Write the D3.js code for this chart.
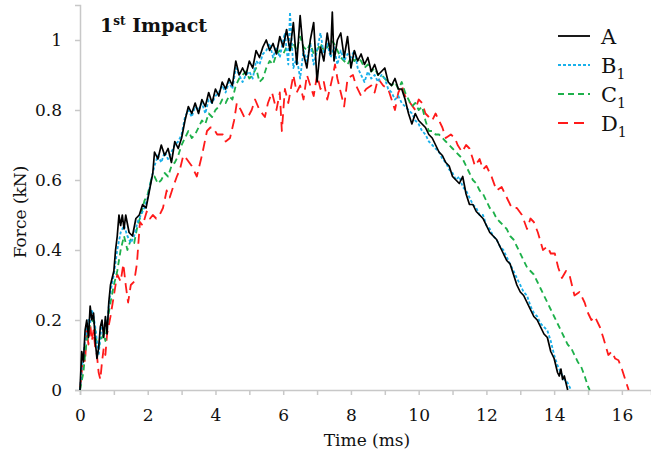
<!DOCTYPE html>
<html>
<head>
<meta charset="utf-8">
<script src="https://cdn.jsdelivr.net/npm/d3@7"></script>
<style>
  body { margin: 0; background: #fff; }
  text { font-family: "DejaVu Serif", serif; fill: #111; }
</style>
</head>
<body>
<div id="chart"></div>
<script>
// Force-time traces, [time ms, force kN]
const seriesA = [
  [0,0],[0.05,0.11],[0.1,0.08],[0.15,0.17],[0.2,0.2],[0.25,0.15],[0.3,0.24],[0.35,0.2],[0.4,0.22],[0.45,0.14],
  [0.5,0.09],[0.55,0.12],[0.6,0.18],[0.65,0.2],[0.7,0.15],[0.75,0.21],[0.8,0.16],[0.85,0.25],[0.9,0.3],[1.0,0.34],
  [1.05,0.4],[1.1,0.44],[1.15,0.5],[1.2,0.47],[1.25,0.5],[1.3,0.46],[1.35,0.5],[1.45,0.45],[1.55,0.44],[1.65,0.49],
  [1.75,0.5],[1.85,0.53],[1.95,0.52],[2.05,0.57],[2.15,0.62],[2.2,0.68],[2.3,0.66],[2.4,0.7],[2.5,0.67],[2.6,0.69],
  [2.7,0.65],[2.8,0.71],[2.9,0.69],[3.0,0.72],[3.1,0.77],[3.2,0.81],[3.3,0.79],[3.4,0.82],[3.5,0.79],[3.6,0.83],
  [3.7,0.81],[3.8,0.85],[3.9,0.82],[4.0,0.86],[4.1,0.84],[4.2,0.88],[4.3,0.86],[4.4,0.89],[4.5,0.87],[4.6,0.94],
  [4.7,0.9],[4.8,0.92],[4.9,0.9],[5.0,0.94],[5.1,0.92],[5.2,0.97],[5.3,0.95],[5.4,0.98],[5.5,1.0],[5.6,0.97],
  [5.7,0.99],[5.8,0.96],[5.9,1.01],[6.0,0.98],[6.1,1.03],[6.2,0.97],[6.3,1.05],[6.4,0.93],[6.5,1.07],[6.6,0.96],
  [6.7,0.92],[6.8,1.0],[6.9,1.05],[7.0,0.88],[7.1,0.98],[7.2,0.94],[7.3,1.02],[7.4,0.96],[7.45,1.08],[7.5,0.94],
  [7.6,1.0],[7.7,1.02],[7.8,0.95],[7.9,1.01],[8.0,0.92],[8.1,0.97],[8.2,0.94],[8.3,0.96],[8.4,0.93],[8.5,0.95],
  [8.6,0.91],[8.7,0.93],[8.8,0.9],[8.9,0.91],[9.0,0.92],[9.1,0.88],[9.2,0.87],[9.3,0.89],[9.4,0.86],[9.5,0.86],
  [9.6,0.83],[9.7,0.79],[9.8,0.76],[9.9,0.79],[10.0,0.77],[10.1,0.76],[10.2,0.75],[10.3,0.73],[10.4,0.72],[10.5,0.7],
  [10.6,0.68],[10.7,0.67],[10.8,0.65],[10.9,0.64],[11.0,0.61],[11.1,0.6],[11.2,0.59],[11.3,0.61],[11.4,0.56],[11.5,0.53],
  [11.6,0.53],[11.7,0.51],[11.8,0.5],[11.9,0.49],[12.0,0.47],[12.1,0.45],[12.2,0.44],[12.3,0.43],[12.4,0.41],[12.5,0.39],
  [12.6,0.37],[12.7,0.36],[12.8,0.33],[12.9,0.3],[13.0,0.28],[13.1,0.27],[13.2,0.25],[13.3,0.23],[13.4,0.21],[13.5,0.2],
  [13.6,0.18],[13.7,0.16],[13.8,0.15],[13.9,0.11],[14.0,0.09],[14.1,0.05],[14.15,0.04],[14.2,0.06],[14.25,0.03],[14.3,0.04],
  [14.4,0]
];

const seriesB = [
  [0,0],[0.05,0.06],[0.1,0.1],[0.15,0.14],[0.2,0.17],[0.25,0.2],[0.3,0.19],[0.35,0.23],[0.4,0.21],[0.45,0.18],
  [0.5,0.14],[0.55,0.1],[0.6,0.15],[0.65,0.19],[0.7,0.16],[0.75,0.2],[0.8,0.19],[0.85,0.24],[0.9,0.28],[1.0,0.33],
  [1.1,0.4],[1.2,0.45],[1.3,0.47],[1.4,0.44],[1.5,0.42],[1.6,0.44],[1.7,0.48],[1.8,0.5],[1.9,0.52],[2.0,0.55],
  [2.1,0.6],[2.2,0.64],[2.3,0.67],[2.4,0.65],[2.5,0.68],[2.6,0.66],[2.7,0.68],[2.8,0.7],[2.9,0.71],[3.0,0.73],
  [3.1,0.78],[3.2,0.8],[3.3,0.78],[3.4,0.81],[3.5,0.8],[3.6,0.82],[3.7,0.79],[3.8,0.83],[3.9,0.82],[4.0,0.84],
  [4.1,0.85],[4.2,0.87],[4.3,0.85],[4.4,0.88],[4.5,0.86],[4.6,0.92],[4.7,0.9],[4.8,0.88],[4.9,0.9],[5.0,0.91],
  [5.1,0.89],[5.2,0.94],[5.3,0.93],[5.4,0.96],[5.5,0.97],[5.6,0.99],[5.7,0.95],[5.8,0.98],[5.9,0.95],[6.0,1.0],
  [6.05,1.02],[6.15,0.93],[6.2,1.08],[6.3,0.92],[6.4,0.95],[6.5,0.89],[6.6,0.97],[6.7,0.94],[6.8,0.99],[6.9,0.93],
  [7.0,0.97],[7.1,1.02],[7.2,0.96],[7.3,0.99],[7.4,0.95],[7.5,0.98],[7.6,0.93],[7.7,0.97],[7.8,0.94],[7.9,0.96],
  [8.0,0.95],[8.1,0.97],[8.2,0.92],[8.3,0.9],[8.4,0.88],[8.5,0.91],[8.6,0.89],[8.7,0.9],[8.8,0.88],[8.9,0.9],
  [9.0,0.89],[9.1,0.86],[9.2,0.85],[9.3,0.83],[9.4,0.84],[9.5,0.82],[9.6,0.81],[9.7,0.8],[9.8,0.79],[9.9,0.77],
  [10.0,0.76],[10.1,0.74],[10.2,0.73],[10.3,0.71],[10.4,0.7],[10.5,0.69],[10.6,0.68],[10.7,0.66],[10.8,0.65],[10.9,0.63],
  [11.0,0.62],[11.1,0.6],[11.2,0.61],[11.3,0.58],[11.4,0.57],[11.5,0.55],[11.6,0.53],[11.7,0.52],[11.8,0.5],[11.9,0.5],
  [12.0,0.47],[12.1,0.46],[12.2,0.44],[12.3,0.43],[12.4,0.41],[12.5,0.4],[12.6,0.38],[12.7,0.36],[12.8,0.34],[12.9,0.32],
  [13.0,0.3],[13.1,0.28],[13.2,0.27],[13.3,0.24],[13.4,0.22],[13.5,0.21],[13.6,0.19],[13.7,0.18],[13.8,0.17],[13.9,0.14],
  [14.0,0.1],[14.1,0.07],[14.2,0.05],[14.3,0.03],[14.4,0.02],[14.5,0]
];

const seriesC = [
  [0,0],[0.1,0.05],[0.15,0.1],[0.2,0.14],[0.3,0.19],[0.4,0.2],[0.45,0.17],[0.5,0.13],[0.55,0.12],[0.6,0.14],
  [0.7,0.16],[0.75,0.14],[0.8,0.19],[0.9,0.25],[1.0,0.3],[1.1,0.34],[1.2,0.4],[1.3,0.44],[1.4,0.4],[1.5,0.43],
  [1.6,0.42],[1.7,0.47],[1.8,0.5],[1.9,0.54],[2.0,0.56],[2.1,0.6],[2.2,0.61],[2.3,0.59],[2.4,0.6],[2.5,0.62],
  [2.6,0.61],[2.7,0.64],[2.8,0.65],[2.9,0.67],[3.0,0.7],[3.1,0.72],[3.2,0.74],[3.3,0.72],[3.4,0.73],[3.5,0.75],
  [3.6,0.77],[3.7,0.76],[3.8,0.79],[3.9,0.78],[4.0,0.8],[4.1,0.81],[4.2,0.83],[4.3,0.82],[4.4,0.84],[4.5,0.83],
  [4.6,0.87],[4.7,0.89],[4.8,0.9],[4.9,0.91],[5.0,0.89],[5.1,0.9],[5.2,0.92],[5.3,0.88],[5.4,0.89],[5.5,0.92],
  [5.6,0.94],[5.7,0.93],[5.8,0.96],[5.9,0.97],[6.0,0.96],[6.1,0.98],[6.2,0.97],[6.3,0.99],[6.4,0.97],[6.5,1.01],
  [6.6,0.98],[6.7,0.97],[6.8,0.99],[6.9,0.96],[7.0,0.97],[7.1,0.99],[7.2,0.97],[7.3,0.98],[7.4,1.0],[7.5,0.99],
  [7.6,0.97],[7.7,0.95],[7.8,0.94],[7.9,0.93],[8.0,0.95],[8.1,0.94],[8.2,0.95],[8.3,0.94],[8.4,0.92],[8.5,0.93],
  [8.6,0.91],[8.7,0.92],[8.8,0.9],[8.9,0.9],[9.0,0.89],[9.1,0.88],[9.2,0.87],[9.3,0.88],[9.4,0.86],[9.5,0.88],
  [9.6,0.85],[9.7,0.83],[9.8,0.81],[9.9,0.82],[10.0,0.8],[10.1,0.81],[10.2,0.77],[10.3,0.74],[10.4,0.74],[10.5,0.73],
  [10.6,0.73],[10.7,0.72],[10.8,0.71],[10.9,0.7],[11.0,0.69],[11.1,0.68],[11.2,0.67],[11.3,0.66],[11.4,0.64],[11.5,0.62],
  [11.6,0.6],[11.7,0.59],[11.8,0.57],[11.9,0.56],[12.0,0.54],[12.1,0.52],[12.2,0.51],[12.3,0.49],[12.4,0.48],[12.5,0.47],
  [12.6,0.46],[12.7,0.44],[12.8,0.43],[12.9,0.41],[13.0,0.39],[13.1,0.37],[13.2,0.35],[13.3,0.34],[13.4,0.33],[13.5,0.31],
  [13.6,0.29],[13.7,0.27],[13.8,0.25],[13.9,0.23],[14.0,0.21],[14.1,0.19],[14.2,0.17],[14.3,0.15],[14.4,0.13],[14.5,0.12],
  [14.6,0.1],[14.7,0.08],[14.8,0.066],[14.9,0.04],[15.0,0.01],[15.05,0]
];

const seriesD = [
  [0,0],[0.05,0.05],[0.1,0.1],[0.15,0.08],[0.2,0.17],[0.25,0.13],[0.3,0.19],[0.35,0.14],[0.4,0.17],[0.45,0.12],
  [0.5,0.1],[0.55,0.05],[0.6,0.03],[0.65,0.08],[0.7,0.12],[0.75,0.1],[0.8,0.16],[0.9,0.21],[1.0,0.27],[1.1,0.33],
  [1.2,0.31],[1.28,0.36],[1.35,0.3],[1.42,0.25],[1.5,0.3],[1.6,0.31],[1.68,0.36],[1.77,0.48],[1.85,0.47],[1.97,0.51],
  [2.07,0.49],[2.15,0.5],[2.25,0.49],[2.35,0.5],[2.45,0.52],[2.56,0.57],[2.65,0.55],[2.75,0.58],[2.86,0.61],[2.95,0.63],
  [3.05,0.67],[3.15,0.66],[3.3,0.64],[3.45,0.61],[3.6,0.67],[3.75,0.74],[3.85,0.75],[3.93,0.75],[4.05,0.73],[4.22,0.73],
  [4.3,0.71],[4.43,0.72],[4.55,0.77],[4.63,0.82],[4.75,0.8],[4.85,0.78],[4.96,0.78],[5.07,0.8],[5.17,0.83],[5.3,0.8],
  [5.46,0.78],[5.55,0.82],[5.67,0.85],[5.8,0.8],[5.9,0.85],[5.96,0.74],[6.05,0.86],[6.15,0.82],[6.3,0.9],[6.4,0.85],
  [6.5,0.87],[6.6,0.83],[6.7,0.9],[6.8,0.87],[6.9,0.84],[7.0,0.9],[7.1,0.86],[7.2,0.88],[7.3,0.83],[7.4,0.87],
  [7.47,0.9],[7.53,0.93],[7.6,0.89],[7.7,0.85],[7.8,0.81],[7.9,0.89],[8.06,0.9],[8.15,0.87],[8.3,0.84],[8.45,0.86],
  [8.6,0.87],[8.7,0.85],[8.8,0.89],[8.95,0.87],[9.1,0.86],[9.2,0.83],[9.3,0.8],[9.4,0.85],[9.5,0.87],[9.6,0.84],
  [9.75,0.82],[9.9,0.8],[10.0,0.83],[10.1,0.82],[10.2,0.79],[10.3,0.78],[10.4,0.77],[10.5,0.79],[10.6,0.77],[10.7,0.75],
  [10.8,0.72],[10.95,0.73],[11.07,0.72],[11.15,0.7],[11.28,0.68],[11.4,0.7],[11.5,0.69],[11.6,0.66],[11.66,0.64],[11.8,0.66],
  [11.9,0.63],[12.0,0.64],[12.15,0.61],[12.3,0.57],[12.45,0.58],[12.55,0.56],[12.65,0.54],[12.75,0.52],[12.9,0.52],[13.05,0.5],
  [13.2,0.46],[13.3,0.49],[13.4,0.48],[13.52,0.45],[13.67,0.4],[13.8,0.41],[13.9,0.39],[14.02,0.39],[14.12,0.35],[14.23,0.32],
  [14.35,0.34],[14.45,0.33],[14.6,0.27],[14.75,0.28],[14.9,0.25],[15.0,0.22],[15.1,0.2],[15.2,0.21],[15.35,0.18],[15.45,0.15],
  [15.6,0.1],[15.7,0.11],[15.8,0.09],[15.9,0.085],[16.0,0.06],[16.1,0.03],[16.2,0]
];

const xTicks = [0, 2, 4, 6, 8, 10, 12, 14, 16];
const xMinorTicks = [0, 1, 2, 3, 4, 5, 6, 7, 8, 9, 10, 11, 12, 13, 14, 15, 16];
const yTicks = [0, 0.2, 0.4, 0.6, 0.8, 1];

const width = 651;
const height = 452;

const svg = d3.select('#chart').append('svg')
  .attr('width', width)
  .attr('height', height);

const x = d3.scaleLinear().domain([0, 16.86]).range([80, 651]);
const y = d3.scaleLinear().domain([0, 1.1]).range([390, 5]);

// axes
svg.append('g')
  .attr('transform', 'translate(0,390)')
  .call(d3.axisBottom(x).tickValues(xMinorTicks).tickSize(5).tickFormat(''));
const xLabels = svg.append('g')
  .attr('transform', 'translate(0,390)')
  .call(d3.axisBottom(x).tickValues(xTicks).tickSize(0).tickPadding(19).tickFormat(d3.format('d')));
xLabels.select('.domain').remove();

svg.append('g')
  .attr('transform', 'translate(80,0)')
  .call(d3.axisLeft(y).tickValues(yTicks).tickSize(5).tickPadding(13).tickFormat(d => d === 0 || d === 1 ? d : d.toFixed(1)));

svg.selectAll('.domain, .tick line').attr('stroke', '#c8c8c8').attr('stroke-width', 1.5);
svg.selectAll('.tick text').attr('font-size', 17).attr('font-family', '"DejaVu Serif", serif').attr('fill', '#111');

// lines
const line = d3.line().x(d => x(d[0])).y(d => y(d[1]));
const styles = [
  { data: seriesD, color: '#ff1a1a', dash: '10,6', w: 1.8 },
  { data: seriesC, color: '#1db04a', dash: '6,4', w: 1.8 },
  { data: seriesB, color: '#1ab0ea', dash: '3,2', w: 1.8 },
  { data: seriesA, color: '#000000', dash: null, w: 1.7 }
];
styles.forEach(s => {
  svg.append('path')
    .attr('d', line(s.data))
    .attr('fill', 'none')
    .attr('stroke', s.color)
    .attr('stroke-width', s.w)
    .attr('stroke-dasharray', s.dash)
    .attr('stroke-linejoin', 'round');
});

// axis titles
svg.append('text')
  .attr('x', 367).attr('y', 446)
  .attr('text-anchor', 'middle')
  .attr('font-size', 17)
  .text('Time (ms)');
svg.append('text')
  .attr('transform', 'translate(26,212) rotate(-90)')
  .attr('text-anchor', 'middle')
  .attr('font-size', 17)
  .text('Force (kN)');

// panel title
const title = svg.append('text')
  .attr('x', 100).attr('y', 32)
  .attr('font-family', '"Liberation Serif", serif')
  .attr('font-size', 19)
  .attr('font-weight', 'bold');
title.append('tspan').text('1');
title.append('tspan').attr('font-size', 12).attr('dy', -7).text('st');
title.append('tspan').attr('dy', 7).text(' Impact');

// legend
const legend = [
  { name: 'A', sub: '', color: '#000000', dash: null },
  { name: 'B', sub: '1', color: '#1ab0ea', dash: '3,2' },
  { name: 'C', sub: '1', color: '#1db04a', dash: '6,4' },
  { name: 'D', sub: '1', color: '#ff1a1a', dash: '10,6' }
];
legend.forEach((l, i) => {
  const ly = 36 + i * 29;
  svg.append('line')
    .attr('x1', 558).attr('x2', 590)
    .attr('y1', ly).attr('y2', ly)
    .attr('stroke', l.color)
    .attr('stroke-width', 1.8)
    .attr('stroke-dasharray', l.dash);
  const t = svg.append('text')
    .attr('x', 601).attr('y', ly + 8)
    .attr('font-size', 21);
  t.append('tspan').text(l.name);
  if (l.sub) t.append('tspan').attr('font-size', 14).attr('dy', 6).text(l.sub);
});
</script>
</body>
</html>
